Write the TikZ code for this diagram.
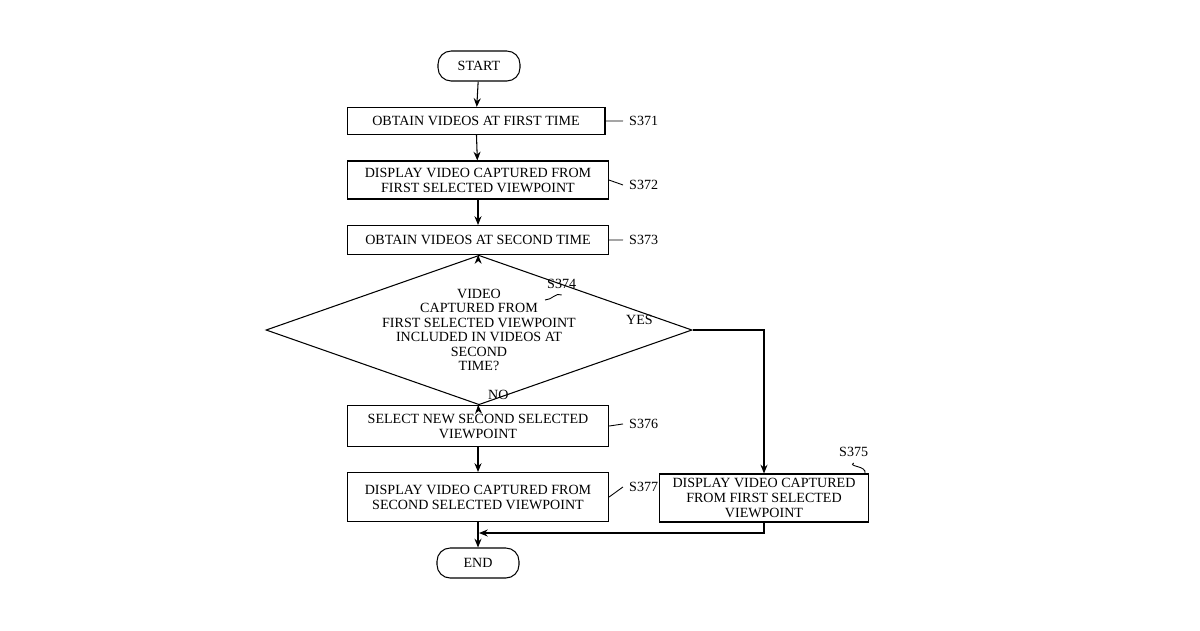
\documentclass[tikz,border=0pt]{standalone}
\usepackage{fontspec}
\setmainfont{Liberation Serif}
\usetikzlibrary{shapes.geometric,arrows.meta}
\tikzset{
  box/.style={draw, line width=0.6pt, align=center, font=\fontsize{8}{8.5}\selectfont, inner sep=2pt},
  term/.style={draw, line width=0.6pt, rounded corners=7.5pt, minimum width=1.64cm, minimum height=0.6cm, font=\fontsize{8}{9}\selectfont},
  lbl/.style={font=\fontsize{8}{9}\selectfont, anchor=west},
  flow/.style={line width=0.6pt, -{Stealth[length=5pt,width=4pt]}},
  line/.style={line width=0.6pt}
}
\newcommand{\squig}[2]{\draw[line width=0.5pt] (#1) .. controls +(0.12,0.12) and +(-0.12,-0.12) .. (#2);}
\begin{document}
\begin{tikzpicture}[x=0.02cm,y=-0.02cm]
\useasboundingbox (0,0) rectangle (1200,630);

\node[term] (start) at (479,66) {START};
\node[box, minimum width=5.16cm, minimum height=0.54cm] (s371) at (476,121) {OBTAIN VIDEOS AT FIRST TIME};
\node[box, minimum width=5.22cm, minimum height=0.76cm] (s372) at (478,180) {DISPLAY VIDEO CAPTURED FROM\\FIRST SELECTED VIEWPOINT};
\node[box, minimum width=5.22cm, minimum height=0.58cm] (s373) at (478,240) {OBTAIN VIDEOS AT SECOND TIME};
\node[draw, line width=0.6pt, diamond, aspect=2.85, minimum width=5.84cm, minimum height=2.04cm, inner sep=0pt, align=center, font=\fontsize{8}{8.2}\selectfont] (s374) at (479,330) {VIDEO\\CAPTURED FROM\\FIRST SELECTED VIEWPOINT\\INCLUDED IN VIDEOS AT\\SECOND\\TIME?};
\node[box, minimum width=5.22cm, minimum height=0.82cm] (s376) at (478,426) {SELECT NEW SECOND SELECTED\\VIEWPOINT};
\node[box, minimum width=5.22cm, minimum height=0.98cm] (s377) at (478,497) {DISPLAY VIDEO CAPTURED FROM\\SECOND SELECTED VIEWPOINT};
\node[box, minimum width=4.18cm, minimum height=0.96cm] (s375) at (764,498) {DISPLAY VIDEO CAPTURED\\FROM FIRST SELECTED\\VIEWPOINT};
\node[term] (end) at (478,563) {END};
\coordinate (yesc) at (764,330);
\coordinate (join) at (764,533);
\coordinate (joinl) at (479,533);

% step labels
\node[lbl] (l371) at (623,121) {S371};
\node[lbl] (l372) at (623,185) {S372};
\node[lbl] (l373) at (623,240) {S373};
\node[lbl] (l374) at (541,284) {S374};
\node[lbl] (l376) at (623,424) {S376};
\node[lbl] (l377) at (623,487) {S377};
\node[lbl] (l375) at (833,452) {S375};
\squig{s371.east}{l371.west}
\squig{s372.east}{l372.west}
\squig{s373.east}{l373.west}
\squig{s376.east}{l376.west}
\squig{s377.east}{l377.west}
\draw[line width=0.5pt] (545,300) .. controls (552,300) and (556,292) .. (l374.south);
\draw[line width=0.5pt] (s375.north east) ++(-4,0) .. controls +(2,-8) and +(-6,4) .. (l375.south);

\node[lbl] at (620,320) {YES};
\node[lbl] at (482,395) {NO};

% arrows
\draw[flow] (start) -- (s371);
\draw[flow] (s371) -- (s372);
\draw[flow] (s372) -- (s373);
\draw[flow] (s373) -- (s374);
\draw[flow] (s374) -- (s376);
\draw[flow] (s376) -- (s377);
\draw[flow] (s377) -- (end);
\draw[flow] (s374.east) -- (yesc) -- (s375.north);
\draw[flow] (s375.south) -- (join) -- (joinl);
\end{tikzpicture}
\end{document}
